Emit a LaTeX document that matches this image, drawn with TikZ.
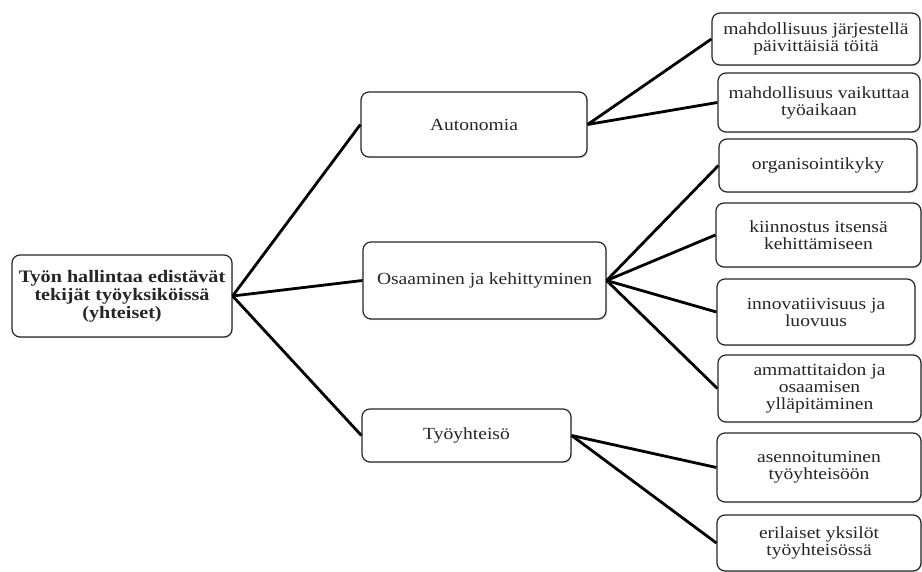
\documentclass[tikz,border=0pt]{standalone}
\usepackage{fontspec}
\setmainfont{Liberation Serif}[FakeStretch=1.15]
\usetikzlibrary{shadows}
\begin{document}
\begin{tikzpicture}[x=1pt,y=-1pt,
  box/.style={draw=black!85,line width=1.2pt,rounded corners=8pt,fill=white,align=center,
    inner sep=2pt,font=\fontsize{17}{17}\selectfont,text=black!85,
    drop shadow={shadow xshift=1.2pt,shadow yshift=-1.2pt,opacity=0.25}},
  rootbox/.style={box,font=\bfseries\fontsize{17.5}{18}\selectfont},
  conn/.style={line width=2.8pt,black}]
\useasboundingbox (0,0) rectangle (922,572);
\node[rootbox,minimum width=220pt,minimum height=82pt] (root) at (122,296) {Työn hallintaa edistävät\\tekijät työyksiköissä\\(yhteiset)};
\node[box,minimum width=226pt,minimum height=65pt] (aut) at (474,124.5) {Autonomia};
\node[box,minimum width=243pt,minimum height=77pt] (osa) at (484.5,280.5) {Osaaminen ja kehittyminen};
\node[box,minimum width=209pt,minimum height=53pt] (tyo) at (466.5,435.5) {Työyhteisö};
\node[box,minimum width=208pt,minimum height=52pt] (c1) at (816,39) {mahdollisuus järjestellä\\päivittäisiä töitä};
\node[box,minimum width=202pt,minimum height=59pt] (c2) at (819,102.5) {mahdollisuus vaikuttaa\\työaikaan};
\node[box,minimum width=198pt,minimum height=53pt] (c3) at (818,165.5) {organisointikyky};
\node[box,minimum width=205pt,minimum height=64pt] (c4) at (818.5,235) {kiinnostus itsensä\\kehittämiseen};
\node[box,minimum width=198pt,minimum height=66pt] (c5) at (816,312) {innovatiivisuus ja\\luovuus};
\node[box,minimum width=203pt,minimum height=67pt] (c6) at (819.5,388.5) {ammattitaidon ja\\osaamisen\\ylläpitäminen};
\node[box,minimum width=204pt,minimum height=69pt] (c7) at (819,467.5) {asennoituminen\\työyhteisöön};
\node[box,minimum width=204pt,minimum height=56pt] (c8) at (819,543) {erilaiset yksilöt\\työyhteisössä};
\draw[conn] (root.east) -- (aut.west);
\draw[conn] (root.east) -- (osa.west);
\draw[conn] (root.east) -- (tyo.west);
\draw[conn] (aut.east) -- (c1.west);
\draw[conn] (aut.east) -- (c2.west);
\draw[conn] (osa.east) -- (c3.west);
\draw[conn] (osa.east) -- (c4.west);
\draw[conn] (osa.east) -- (c5.west);
\draw[conn] (osa.east) -- (c6.west);
\draw[conn] (tyo.east) -- (c7.west);
\draw[conn] (tyo.east) -- (c8.west);
\end{tikzpicture}
\end{document}
